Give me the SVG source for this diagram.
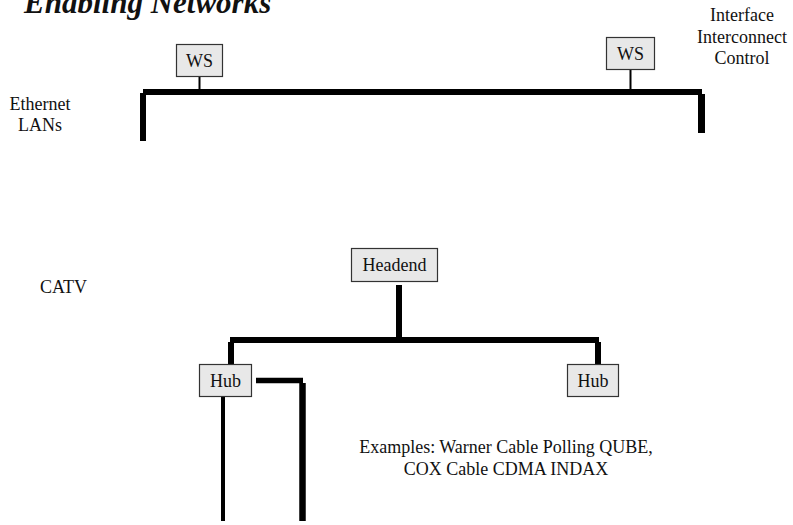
<svg xmlns="http://www.w3.org/2000/svg" width="793" height="525" viewBox="0 0 793 525">
<style>
.t{font-family:"Liberation Serif","Times New Roman",serif;font-size:18px;fill:#111}
.c{text-anchor:middle}
.box{fill:#e8e8e8;stroke:#333;stroke-width:1.2}
.w{stroke:#000;fill:none;stroke-linecap:butt}
</style>
<rect width="793" height="525" fill="#fff"/>
<text x="24" y="13" style="font-family:'Liberation Serif','Times New Roman',serif;font-size:31px;font-weight:bold;font-style:italic;fill:#111">Enabling Networks</text>
<text class="t c" x="742"><tspan x="742" y="21">Interface</tspan><tspan x="742" y="43">Interconnect</tspan><tspan x="742" y="64">Control</tspan></text>
<text class="t c"><tspan x="40" y="110">Ethernet</tspan><tspan x="40" y="131">LANs</tspan></text>
<text class="t" x="40" y="293">CATV</text>
<text class="t c"><tspan x="506" y="453">Examples: Warner Cable Polling QUBE,</tspan><tspan x="506" y="475">COX Cable CDMA INDAX</tspan></text>
<g id="connectors">
<line class="w" x1="199.5" y1="77" x2="199.5" y2="90" stroke-width="2"/>
<line class="w" x1="630.5" y1="70" x2="630.5" y2="90" stroke-width="2"/>
<line class="w" x1="143" y1="92" x2="702" y2="92" stroke-width="6"/>
<line class="w" x1="143" y1="93" x2="143" y2="141" stroke-width="6"/>
<line class="w" x1="701.5" y1="94" x2="701.5" y2="133" stroke-width="7"/>
<line class="w" x1="399" y1="285" x2="399" y2="338" stroke-width="6"/>
<line class="w" x1="230" y1="340" x2="599" y2="340" stroke-width="6"/>
<line class="w" x1="231" y1="342" x2="231" y2="364" stroke-width="6"/>
<line class="w" x1="598" y1="342" x2="598" y2="364" stroke-width="6"/>
<line class="w" x1="256" y1="380.5" x2="303" y2="380.5" stroke-width="5.5"/>
<line class="w" x1="302.5" y1="383" x2="302.5" y2="521" stroke-width="6.5"/>
<line class="w" x1="223" y1="397" x2="223" y2="521" stroke-width="4"/>
</g>
<g id="ws1"><rect class="box" x="176.5" y="44.5" width="46" height="32"/><text class="t c" x="199.5" y="67">WS</text></g>
<g id="ws2"><rect class="box" x="606.5" y="37.5" width="48" height="32"/><text class="t c" x="630.5" y="60">WS</text></g>
<g id="headend"><rect class="box" x="351.5" y="248.5" width="86" height="33"/><text class="t c" x="394.5" y="271">Headend</text></g>
<g id="hub1"><rect class="box" x="199.5" y="364.5" width="52" height="32"/><text class="t c" x="225.5" y="387">Hub</text></g>
<g id="hub2"><rect class="box" x="567.5" y="364.5" width="51" height="32"/><text class="t c" x="593" y="387">Hub</text></g>
</svg>
